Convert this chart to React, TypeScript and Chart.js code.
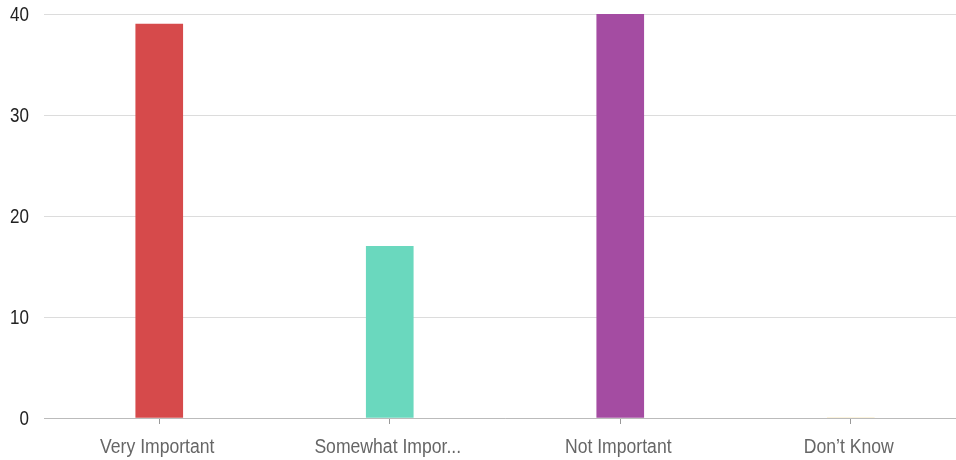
import React, { useEffect, useRef } from "react";
import { Chart, registerables } from "chart.js";

Chart.register(...registerables);

const categories = ["Very Important", "Somewhat Impor...", "Not Important", "Don\u2019t Know"];
const values = [39, 17, 40, 0];
const barColors = ["#d64a4b", "#6ad8be", "#a44ca2", "#f2d27e"];
const yTicks = [0, 10, 20, 30, 40];

const FONT = "'Liberation Sans', Arial, sans-serif";

// Draws tick labels in a horizontally condensed sans face (like the reference)
const condensedLabels = {
  id: "condensedLabels",
  afterDraw(chart: any) {
    const ctx = chart.ctx as CanvasRenderingContext2D;
    const xs = chart.scales.x;
    const ys = chart.scales.y;
    ctx.save();
    ctx.fillStyle = "#666";
    ctx.font = `20px ${FONT}`;
    ctx.textAlign = "center";
    ctx.textBaseline = "alphabetic";
    xs.ticks.forEach((t: any, i: number) => {
      const label = String(chart.data.labels[t.value ?? i]);
      const px = xs.getPixelForTick(i);
      ctx.save();
      ctx.translate(px - 2, xs.top + 35);
      ctx.scale(0.88, 1);
      ctx.fillText(label, 0, 0);
      ctx.restore();
    });
    ctx.fillStyle = "#222";
    ctx.font = `21px ${FONT}`;
    ctx.textAlign = "right";
    ctx.textBaseline = "middle";
    ys.ticks.forEach((t: any) => {
      const py = ys.getPixelForValue(t.value);
      ctx.save();
      ctx.translate(ys.right - 15, py + 1);
      ctx.scale(0.81, 1);
      ctx.fillText(String(t.value), 0, 0);
      ctx.restore();
    });
    ctx.restore();
  },
};

export default function App() {
  const ref = useRef<HTMLCanvasElement | null>(null);
  useEffect(() => {
    document.body.style.margin = "0";
    const chart = new Chart(ref.current!, {
      type: "bar",
      data: {
        labels: categories,
        datasets: [
          {
            data: values,
            backgroundColor: barColors,
            barThickness: 47,
          },
        ],
      },
      plugins: [condensedLabels],
      options: {
        animation: false,
        responsive: false,
        layout: { padding: { left: 9, top: 14, right: 0, bottom: 0 } },
        plugins: { legend: { display: false }, tooltip: { enabled: false } },
        scales: {
          x: {
            afterFit: (axis: any) => {
              axis.height = 42;
              axis.paddingLeft = 0;
              axis.paddingRight = 0;
            },
            grid: { offset: false, drawOnChartArea: false, drawTicks: true, tickLength: 6, color: "#999" },
            border: { display: true, color: "#bbb", width: 1 },
            ticks: { display: false, autoSkip: false },
          },
          y: {
            min: 0,
            max: 40,
            afterBuildTicks: (axis: any) => {
              axis.ticks = yTicks.map((v) => ({ value: v }));
            },
            afterFit: (axis: any) => {
              axis.width = 35;
              axis.paddingTop = 0;
              axis.paddingBottom = 0;
            },
            grid: { color: "#dcdcdc", drawTicks: false },
            border: { display: false },
            ticks: { display: false },
          },
        },
      },
    });
    return () => chart.destroy();
  }, []);
  return (
    <div style={{ position: "fixed", left: 0, top: 0, width: 956, height: 460, overflow: "hidden", background: "#fff" }}>
      <canvas ref={ref} width={966} height={460} style={{ display: "block" }} />
    </div>
  );
}
